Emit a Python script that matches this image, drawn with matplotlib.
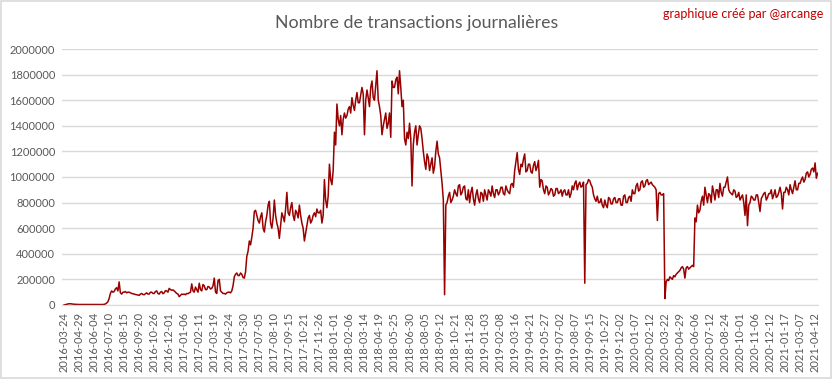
import matplotlib
matplotlib.use("Agg")
import matplotlib.pyplot as plt
from matplotlib.patches import Rectangle
import numpy as np

# tick labels, one every 36 days (category axis, some days missing)
tick_labels = [
    "2016-03-24", "2016-04-29", "2016-06-04", "2016-07-10", "2016-08-15", "2016-09-20",
    "2016-10-26", "2016-12-01", "2017-01-06", "2017-02-11", "2017-03-19", "2017-04-24",
    "2017-05-30", "2017-07-05", "2017-08-10", "2017-09-15", "2017-10-21", "2017-11-26",
    "2018-01-01", "2018-02-06", "2018-03-14", "2018-04-19", "2018-05-25", "2018-06-30",
    "2018-08-05", "2018-09-12", "2018-10-21", "2018-11-28", "2019-01-03", "2019-02-08",
    "2019-03-16", "2019-04-21", "2019-05-27", "2019-07-02", "2019-08-07", "2019-09-15",
    "2019-10-27", "2019-12-02", "2020-01-07", "2020-02-12", "2020-03-22", "2020-04-29",
    "2020-06-06", "2020-07-12", "2020-08-24", "2020-10-01", "2020-11-06", "2020-12-12",
    "2021-01-17", "2021-03-07", "2021-04-12",
]
tick_step = 36
sample_step = 3  # one value read every 3 days

# daily transactions, in thousands, 12 readings per tick interval
tx_k = [
    0, 2, 5, 8, 9, 10, 8, 7, 6, 5, 5, 4,
    4, 4, 4, 4, 3.5, 3.5, 3.5, 3.5, 3.5, 3.5, 3.5, 3.5,
    3.5, 3.5, 3.5, 3.5, 3.5, 3.5, 3.5, 3.5, 5, 8, 15, 25,
    50, 90, 110, 100, 105, 125, 135, 110, 180, 95, 85, 100,
    100, 105, 95, 100, 100, 95, 90, 88, 85, 82, 80, 78,
    75, 85, 90, 82, 80, 88, 95, 85, 85, 100, 100, 90,
    90, 105, 110, 90, 85, 100, 105, 88, 95, 112, 110, 100,
    130, 120, 115, 118, 110, 100, 90, 85, 65, 75, 85, 82,
    85, 80, 90, 88, 95, 100, 165, 110, 100, 140, 120, 100,
    170, 120, 110, 160, 150, 120, 120, 145, 140, 125, 130, 150,
    210, 100, 90, 190, 200, 110, 100, 90, 90, 85, 95, 100,
    100, 95, 110, 150, 220, 240, 250, 230, 230, 250, 240, 215,
    210, 260, 380, 420, 500, 470, 530, 600, 730, 740, 700, 660,
    640, 690, 720, 600, 570, 650, 700, 780, 810, 640, 600, 680,
    820, 700, 640, 600, 520, 620, 720, 690, 650, 750, 880, 720,
    700, 760, 800, 700, 660, 740, 720, 680, 780, 700, 640, 600,
    500, 560, 620, 680, 700, 640, 660, 700, 720, 690, 750, 720,
    720, 740, 640, 700, 980, 820, 760, 850, 1100, 980, 940, 1050,
    1350, 1250, 1570, 1450, 1400, 1480, 1330, 1450, 1500, 1460, 1480, 1530,
    1550, 1500, 1620, 1560, 1520, 1600, 1660, 1580, 1580, 1640, 1700, 1650,
    1330, 1600, 1680, 1620, 1550, 1700, 1750, 1620, 1600, 1720, 1830, 1600,
    1550, 1480, 1330, 1400, 1450, 1500, 1380, 1420, 1500, 1310, 1750, 1700,
    1700, 1760, 1780, 1650, 1830, 1700, 1550, 1600, 1300, 1250, 1350, 1300,
    1420, 1300, 930, 1250, 1350, 1400, 1250, 1330, 1400, 1380, 1300, 1200,
    1120, 1060, 1180, 1150, 1050, 1100, 1150, 1030, 1080, 1200, 1280, 1180,
    1150, 1050, 950, 820, 80, 780, 800, 850, 880, 800, 820, 850,
    900, 870, 850, 930, 940, 860, 880, 920, 930, 830, 820, 900,
    800, 880, 920, 830, 780, 860, 900, 830, 800, 880, 870, 810,
    900, 860, 820, 900, 880, 850, 930, 870, 840, 900, 900, 860,
    880, 920, 920, 870, 860, 930, 900, 880, 870, 940, 950, 920,
    1050, 1120, 1190, 1060, 1020, 1100, 1080, 1140, 1180, 1040, 1050, 1100,
    1100, 1040, 1030, 1090, 1120, 1050, 1080, 1130, 920, 980, 970, 900,
    870, 930, 920, 860, 880, 910, 900, 850, 860, 910, 910, 870,
    880, 900, 850, 890, 900, 860, 860, 900, 840, 870, 930, 900,
    950, 970, 900, 940, 960, 920, 930, 960, 170, 940, 950, 980,
    970, 940, 920, 860, 830, 810, 850, 800, 800, 830, 780, 760,
    820, 780, 760, 840, 830, 790, 790, 830, 840, 800, 800, 830,
    830, 780, 780, 850, 860, 800, 800, 840, 850, 810, 900, 870,
    870, 930, 950, 890, 900, 960, 970, 920, 930, 970, 980, 940,
    950, 960, 940, 930, 920, 900, 660, 870, 880, 860, 860, 870,
    50, 180, 200, 190, 220, 210, 200, 230, 220, 240, 250, 260,
    270, 290, 300, 280, 210, 290, 300, 280, 290, 300, 310, 300,
    680, 650, 780, 720, 740, 810, 850, 780, 920, 860, 800, 870,
    860, 800, 930, 880, 820, 900, 900, 840, 950, 880, 850, 920,
    920, 960, 1000, 900, 880, 870, 860, 900, 890, 840, 850, 880,
    820, 840, 860, 800, 700, 860, 620, 780, 800, 850, 840, 820,
    820, 860, 860, 800, 730, 830, 850, 870, 880, 820, 840, 870,
    870, 900, 830, 860, 900, 840, 850, 880, 920, 870, 750, 880,
    880, 920, 900, 860, 940, 900, 870, 920, 970, 900, 900, 950,
    950, 980, 1000, 960, 980, 1030, 1040, 1000, 1020, 1060, 1070, 1040,
    1110, 990, 1030,
]
tx = np.array(tx_k) * 1000
day_idx = np.arange(len(tx)) * sample_step

fig = plt.figure(figsize=(8.33, 3.79), dpi=100)
ax = fig.add_axes([0.0744, 0.1953, 0.9076, 0.6754])

ax.plot(day_idx, tx, color="#990000", linewidth=1.1)

ax.set_ylim(0, 2000000)
ax.set_yticks(range(0, 2000001, 200000))
ax.set_yticklabels([str(v) for v in range(0, 2000001, 200000)])
ax.set_xlim(-5, 1807)
ax.set_xticks([i * tick_step for i in range(len(tick_labels))])
ax.set_xticklabels(tick_labels, rotation=90)

ax.grid(axis="y", color="#D9D9D9", linewidth=1.0)
ax.set_axisbelow(True)
for s in ["top", "right", "left"]:
    ax.spines[s].set_visible(False)
ax.spines["bottom"].set_color("#D9D9D9")
ax.tick_params(axis="both", length=0, labelsize=8, labelcolor="#595959", pad=5)
for lab in ax.get_xticklabels() + ax.get_yticklabels():
    lab.set_family("Lato")

fig.text(0.5, 0.938, "Nombre de transactions journalières", ha="center", va="center",
         fontsize=12.8, color="#595959", family="Lato")
fig.text(0.988, 0.963, "graphique créé par @arcange", ha="right", va="center",
         fontsize=9, color="#C00000", family="Lato")

fig.patches.append(Rectangle((0.001, 0.002), 0.997, 0.995, transform=fig.transFigure,
                             fill=False, edgecolor="#D9D9D9", linewidth=1.2))

fig.savefig("out.png", dpi=100)
